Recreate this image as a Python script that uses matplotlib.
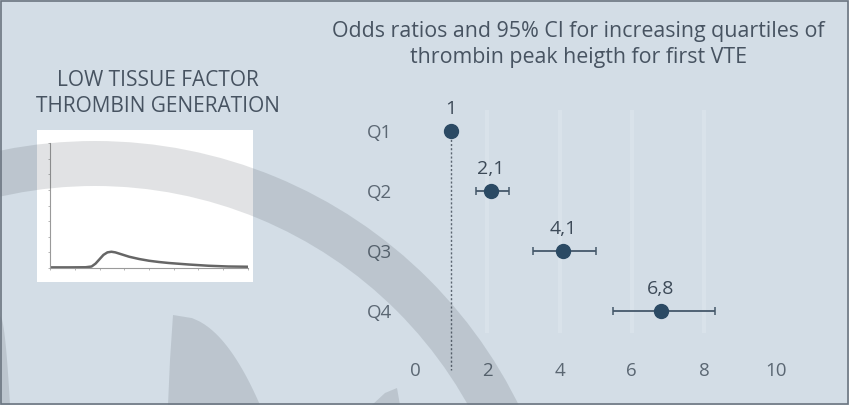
import numpy as np
import matplotlib.pyplot as plt
from matplotlib.patches import Rectangle, Wedge, Polygon

plt.rcParams['font.family'] = ['Open Sans', 'DejaVu Sans']

# forest plot data
quartiles = ['Q1', 'Q2', 'Q3', 'Q4']
odds = [1.0, 2.1, 4.1, 6.8]
ci_low = [1.0, 1.69, 3.27, 5.48]
ci_high = [1.0, 2.60, 5.01, 8.31]
odds_labels = ['1', '2,1', '4,1', '6,8']
xticks = [0, 2, 4, 6, 8, 10]

# small thrombin generation curve in the inset
tg_time = [0, 10, 18, 21, 23, 25, 27, 29, 31, 33, 36, 40, 45, 50, 55, 60, 70, 80, 90, 100]
tg_height = [0.5, 0.5, 0.6, 1.2, 3.5, 7, 10.5, 12.5, 13, 12.5, 11, 9, 7.2, 5.8, 4.8, 4, 2.8, 1.8, 1.2, 1.0]

W, H = 849, 405
bg = '#d3dde6'
navy = '#2b4a64'
txt = '#475361'

fig = plt.figure(figsize=(W / 100, H / 100), dpi=100)
fig.patch.set_facecolor(bg)


def px_axes(x0, y0, x1, y1, **kw):
    # axes from pixel box (top-left origin)
    return fig.add_axes([x0 / W, 1 - y1 / H, (x1 - x0) / W, (y1 - y0) / H], **kw)


# titles
fig.text(578 / W, 1 - 31 / H, 'Odds ratios and 95% CI for increasing quartiles of',
         ha='center', va='center', fontsize=15.4, color=txt)
fig.text(578 / W, 1 - 58 / H, 'thrombin peak heigth for first VTE',
         ha='center', va='center', fontsize=15.4, color=txt)
fig.text(158 / W, 1 - 80 / H, 'LOW TISSUE FACTOR',
         ha='center', va='center', fontsize=15, color=txt)
fig.text(158 / W, 1 - 106 / H, 'THROMBIN GENERATION',
         ha='center', va='center', fontsize=15, color=txt)

# inset picture
box = px_axes(37, 130, 253, 282, zorder=1)
box.set_facecolor('white')
box.set_xticks([])
box.set_yticks([])
for s in box.spines.values():
    s.set_visible(False)

axi = px_axes(50, 143, 248, 268, zorder=2)
axi.set_facecolor('none')
axi.plot(tg_time, tg_height, color='#666666', lw=1.8)
axi.set_xlim(0, 100)
axi.set_ylim(0, 100)
for s in ['top', 'right']:
    axi.spines[s].set_visible(False)
for s in ['left', 'bottom']:
    axi.spines[s].set_color('#9a9a9a')
    axi.spines[s].set_linewidth(0.8)
axi.set_xticks(np.arange(0, 101, 12.5))
axi.set_yticks(np.arange(0, 101, 12.5))
axi.tick_params(length=1.5, width=0.6, color='#aaaaaa', labelbottom=False, labelleft=False)

# main forest plot
ax = px_axes(402, 105, 798, 355, zorder=2)
ax.set_facecolor('none')
ax.set_xlim(-0.36, 10.6)
ax.set_ylim(3.733, -0.433)
ax.vlines(xticks[1:-1], -0.35, 3.37, color='#d9e2ea', lw=3, zorder=0)
ax.vlines(1, 0, 3.98, color='#5a6470', lw=1, linestyles=(0, (1.5, 1.5)), clip_on=False, zorder=1)

y = np.arange(len(quartiles))
err = [np.array(odds) - np.array(ci_low), np.array(ci_high) - np.array(odds)]
ax.errorbar(odds, y, xerr=err, fmt='o', color=navy, ecolor='#45586a',
            elinewidth=1.3, capsize=3, capthick=1.1, markersize=10, zorder=3)
for xv, yv, lab in zip(odds, y, odds_labels):
    ax.text(xv, yv - 0.36, lab, ha='center', va='center', fontsize=14, color='#3d4a58')

ax.set_yticks(y)
ax.set_yticklabels(quartiles)
ax.set_xticks(xticks)
ax.tick_params(length=0, labelsize=13.5, colors='#5b6773')
ax.tick_params(axis='x', pad=5)
ax.tick_params(axis='y', pad=7)
for s in ax.spines.values():
    s.set_visible(False)

# decorative background shapes, on top with low alpha
ov = fig.add_axes([0, 0, 1, 1], zorder=10)
ov.set_xlim(0, W)
ov.set_ylim(H, 0)
ov.axis('off')
shade = dict(facecolor='#303840', alpha=0.14, edgecolor='none')
ov.add_patch(Wedge((95, 613), 472, 0, 360, width=45, **shade))
s = np.linspace(0, 1, 30)
leaf = np.column_stack([173 + 87 * s ** 0.45, 315 + 90 * s])
leaf = np.vstack([leaf, [[168, 405], [170, 360]]])
ov.add_patch(Polygon(leaf, **shade))
sliver = np.column_stack([10 * s ** 0.5, 316 + 89 * s])
sliver = np.vstack([sliver, [[0, 405]]])
ov.add_patch(Polygon(sliver, **shade))
ov.add_patch(Polygon([[397, 388], [400, 405], [372, 405], [385, 393]], **shade))
ov.add_patch(Rectangle((1, 1), W - 2, H - 2, facecolor='none', edgecolor='#6b7580', lw=1.2))

fig.savefig('out.png', dpi=100, facecolor=fig.get_facecolor())
